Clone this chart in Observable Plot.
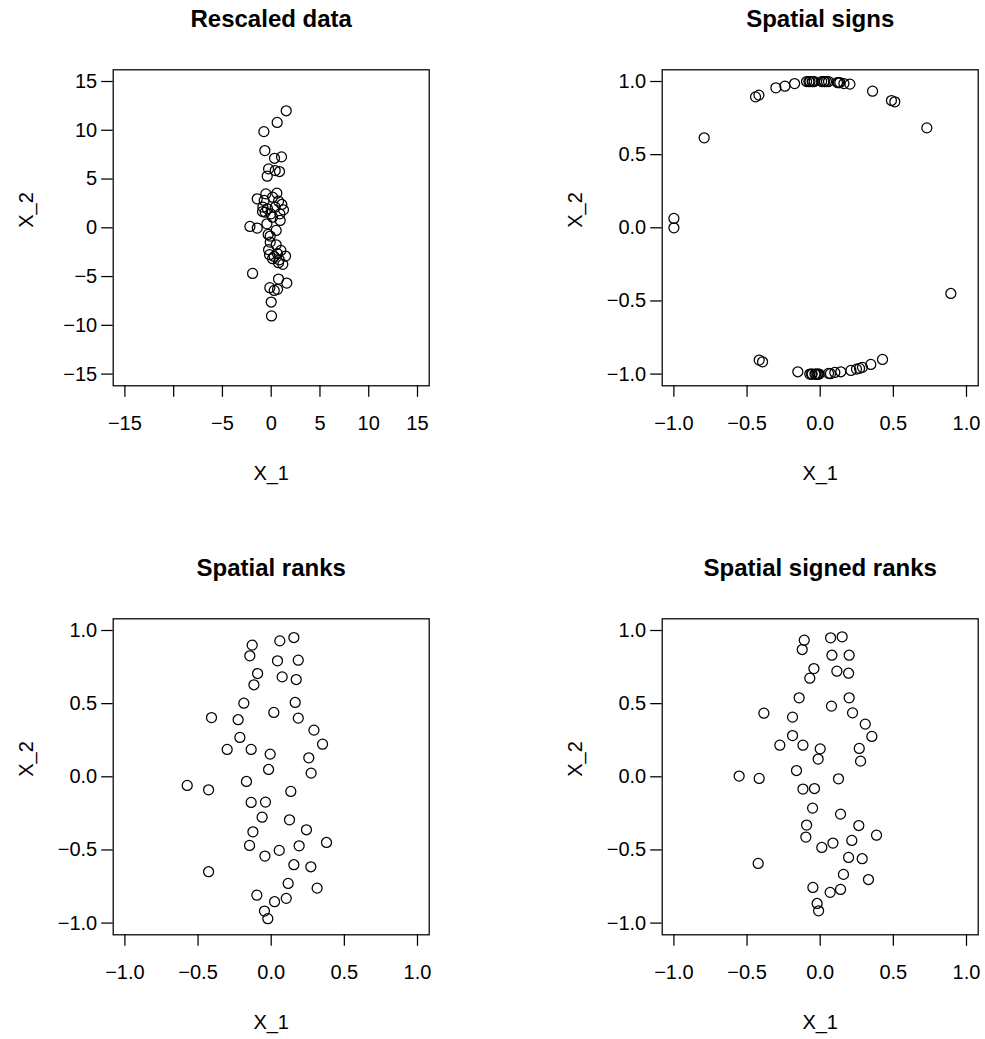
<!DOCTYPE html>
<html>
<head>
<meta charset="utf-8">
<script src="https://cdn.jsdelivr.net/npm/d3@7"></script>
<script src="https://cdn.jsdelivr.net/npm/@observablehq/plot@0.6"></script>
<style>
  html, body { margin: 0; padding: 0; background: #fff; }
  #wrap { position: relative; width: 985px; height: 1039px; background: #fff; overflow: hidden; }
  #wrap > div, #wrap > svg { position: absolute; }
</style>
</head>
<body>
<div id="wrap"></div>
<script>
// ---------- data ----------
const titles = ["Rescaled data", "Spatial signs", "Spatial ranks", "Spatial signed ranks"];
const xLabel = "X_1";
const yLabel = "X_2";

// Panel 1: rescaled data
const rescaledX = [1.54, 0.61, -0.75, -0.65, 0.34, 1.06, -0.27, 0.41, 0.85, -0.41,
  -0.55, 0.58, -1.43, -0.72, 0.14, 0.75, 1.09, -0.85, -0.38, -0.89,
  -0.61, -0.03, 0.89, 1.26, 0.41, 0.92, 0.14, -0.44, -2.18, -1.43,
  0.51, -0.31, -0.10, -0.10, 0.51, -0.27, 0.99, 0.65, -0.17, 0.31,
  1.47, 0.14, 0.82, 1.19, 0.75, -1.91, 0.75, 1.60, -0.14, 0.31,
  0.65, 0.00, 0.03];
const rescaledY = [12.0, 10.8, 9.86, 7.92, 7.13, 7.27, 6.04, 5.87, 5.77, 5.29,
  3.48, 3.55, 2.97, 2.80, 3.14, 2.73, 2.39, 2.12, 1.95, 1.67,
  1.60, 1.43, 1.43, 1.84, 2.12, 0.75, 1.09, 0.41, 0.14, -0.03,
  -0.27, -0.68, -0.85, -1.47, -1.74, -2.25, -2.32, -2.66, -2.76, -2.94,
  -2.90, -3.17, -3.28, -3.75, -3.58, -4.68, -5.26, -5.67, -6.14, -6.42,
  -6.31, -7.61, -9.04];

// Panel 2: spatial signs
const signsX = [-1.0, -1.0, -0.793, -0.442, -0.419, -0.303, -0.241, -0.175, -0.093, -0.077,
  -0.055, -0.041, 0.025, 0.043, 0.057, 0.118, 0.134, 0.162, 0.203, 0.358,
  0.487, 0.510, 0.729, 0.893, -0.417, -0.394, -0.153, -0.071, -0.055, -0.036,
  -0.021, -0.007, 0.057, 0.100, 0.141, 0.210, 0.248, 0.269, 0.289, 0.346,
  0.426, -0.070, -0.052, 0.030, 0.010, 0.125, -0.060, -0.030, -0.015, 0.070];
const signsY = [0.064, 0.0, 0.615, 0.895, 0.907, 0.957, 0.968, 0.986, 1.0, 1.0,
  1.0, 1.0, 1.0, 1.0, 1.0, 0.993, 0.993, 0.986, 0.982, 0.934,
  0.870, 0.861, 0.683, -0.449, -0.904, -0.916, -0.984, -1.0, -1.0, -1.0,
  -1.0, -1.0, -0.995, -0.989, -0.984, -0.975, -0.966, -0.961, -0.954, -0.934,
  -0.900, 1.0, 1.0, 1.0, 1.0, 0.992, -1.0, -1.0, -1.0, -0.997];

// Panel 3: spatial ranks
const ranksX = [0.155, 0.059, -0.130, -0.146, 0.043, 0.185, -0.093, 0.075, 0.171, -0.118,
  -0.187, 0.164, 0.018, -0.408, -0.226, 0.185, 0.292, -0.214, 0.351, -0.301,
  -0.137, -0.007, 0.257, -0.018, 0.273, -0.574, -0.428, -0.169, 0.134, -0.137,
  -0.039, -0.062, 0.125, 0.241, -0.125, 0.378, -0.148, 0.191, 0.055, -0.043,
  0.155, 0.271, -0.428, 0.116, 0.314, -0.098, 0.103, 0.023, -0.046, -0.023];
const ranksY = [0.952, 0.929, 0.900, 0.827, 0.793, 0.797, 0.706, 0.683, 0.665, 0.629,
  0.503, 0.508, 0.440, 0.405, 0.390, 0.401, 0.319, 0.269, 0.223, 0.187,
  0.187, 0.155, 0.130, 0.050, 0.025, -0.059, -0.089, -0.032, -0.100, -0.175,
  -0.173, -0.276, -0.294, -0.362, -0.376, -0.449, -0.469, -0.472, -0.503, -0.542,
  -0.601, -0.615, -0.649, -0.729, -0.761, -0.809, -0.831, -0.854, -0.918, -0.970];

// Panel 4: spatial signed ranks
const signedRanksX = [0.150, 0.071, -0.109, -0.123, 0.080, 0.198, -0.043, 0.114, 0.194, -0.071,
  -0.144, 0.198, 0.077, -0.385, -0.189, 0.221, 0.308, -0.189, 0.353, -0.276,
  -0.118, 0.000, 0.267, -0.014, 0.276, -0.554, -0.417, -0.162, 0.125, -0.118,
  -0.039, -0.052, 0.139, 0.264, -0.093, 0.385, -0.098, 0.216, 0.087, 0.011,
  0.194, 0.287, -0.424, 0.159, 0.330, -0.050, 0.068, 0.139, -0.021, -0.011];
const signedRanksY = [0.957, 0.950, 0.934, 0.870, 0.831, 0.831, 0.740, 0.722, 0.708, 0.674,
  0.540, 0.540, 0.483, 0.435, 0.408, 0.437, 0.360, 0.282, 0.276, 0.216,
  0.216, 0.191, 0.194, 0.121, 0.107, 0.005, -0.011, 0.043, -0.014, -0.084,
  -0.080, -0.214, -0.255, -0.333, -0.330, -0.399, -0.412, -0.435, -0.453, -0.483,
  -0.551, -0.560, -0.592, -0.667, -0.702, -0.756, -0.790, -0.770, -0.866, -0.916];

// Axis ticks and labels
const bigTicks = [-15, -10, -5, 0, 5, 10, 15];
const bigXTickLabels = ["\u221215", "", "\u22125", "0", "5", "10", "15"];
const bigYTickLabels = ["\u221215", "\u221210", "\u22125", "0", "5", "10", "15"];
const unitTicks = [-1, -0.5, 0, 0.5, 1];
const unitTickLabels = ["\u22121.0", "\u22120.5", "0.0", "0.5", "1.0"];
const bigLimits = [-15, 15];
const unitLimits = [-1, 1];

// ---------- layout ----------
const FONT = "'Liberation Sans', Arial, Helvetica, sans-serif";
const BOX = 316;
const ML = 112.7, MT = 69.3;

function extend(lim) { // R's default 4% axis extension
  const d = (lim[1] - lim[0]) * 0.04;
  return [lim[0] - d, lim[1] + d];
}

function panel({title, xs, ys, limits, ticks, xTickLabels, yTickLabels, left, top, width, height}) {
  const data = xs.map((x, i) => ({x, y: ys[i]}));
  const xFmt = d => xTickLabels[ticks.indexOf(d)];
  const yFmt = d => yTickLabels[ticks.indexOf(d)];
  const chart = Plot.plot({
    width, height,
    marginLeft: ML, marginTop: MT,
    marginRight: width - ML - BOX,
    marginBottom: height - MT - BOX,
    style: {fontFamily: FONT, fontSize: "20px", color: "black", background: "white", overflow: "visible"},
    x: {domain: extend(limits), axis: null},
    y: {domain: extend(limits), axis: null},
    marks: [
      Plot.axisX({ticks, tickFormat: xFmt, tickSize: 11.5, tickPadding: 18.8, fontSize: 20, strokeWidth: 1.25, stroke: "black", fill: "black", label: null}),
      Plot.axisY({ticks, tickFormat: yFmt, tickSize: 11.5, tickPadding: 4.5, fontSize: 20, strokeWidth: 1.25, stroke: "black", fill: "black", label: null}),
      Plot.frame({stroke: "black", strokeWidth: 1.25}),
      Plot.dot(data, {x: "x", y: "y", r: 5, stroke: "black", strokeWidth: 1.25, fill: "none"}),
      Plot.text([title], {frameAnchor: "top", dy: -43.3, lineAnchor: "bottom", fontSize: 24, fontWeight: "bold", fill: "black"}),
      Plot.text([xLabel], {frameAnchor: "bottom", dy: 94.5, lineAnchor: "bottom", fontSize: 20, fill: "black"}),
      Plot.text([yLabel], {frameAnchor: "left", dx: -87, rotate: -90, fontSize: 20, fill: "black"})
    ]
  });
  chart.style.left = left + "px";
  chart.style.top = top + "px";
  return chart;
}

const wrap = document.getElementById("wrap");
wrap.appendChild(panel({title: titles[0], xs: rescaledX, ys: rescaledY, limits: bigLimits, ticks: bigTicks,
  xTickLabels: bigXTickLabels, yTickLabels: bigYTickLabels, left: 0, top: 0, width: 549, height: 549}));
wrap.appendChild(panel({title: titles[1], xs: signsX, ys: signsY, limits: unitLimits, ticks: unitTicks,
  xTickLabels: unitTickLabels, yTickLabels: unitTickLabels, left: 549, top: 0, width: 436, height: 549}));
wrap.appendChild(panel({title: titles[2], xs: ranksX, ys: ranksY, limits: unitLimits, ticks: unitTicks,
  xTickLabels: unitTickLabels, yTickLabels: unitTickLabels, left: 0, top: 549, width: 549, height: 490}));
wrap.appendChild(panel({title: titles[3], xs: signedRanksX, ys: signedRanksY, limits: unitLimits, ticks: unitTicks,
  xTickLabels: unitTickLabels, yTickLabels: unitTickLabels, left: 549, top: 549, width: 436, height: 490}));
</script>
</body>
</html>
